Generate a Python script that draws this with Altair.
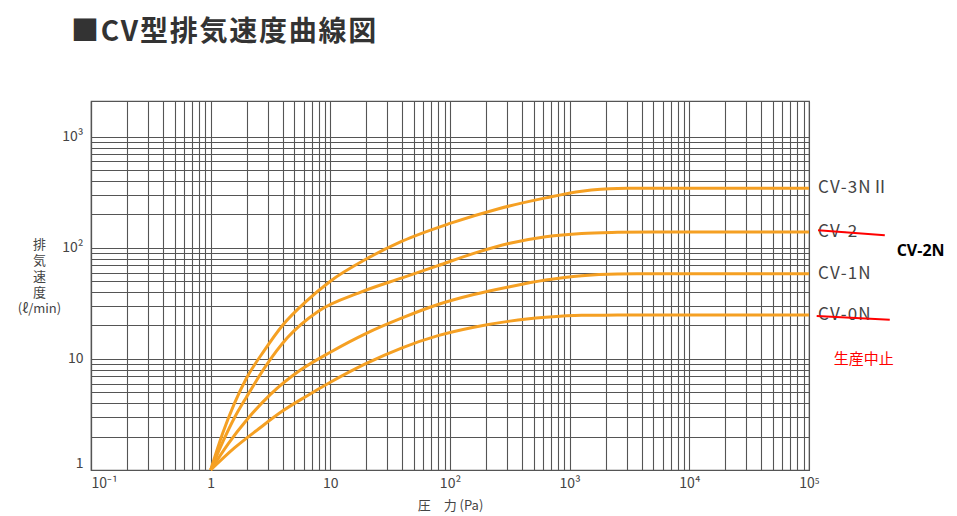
import altair as alt
import pandas as pd

# ---------------- data ----------------
chart_title = "■CV型排気速度曲線図"
x_title = "圧　力 (Pa)"
y_title_lines = ["排", "気", "速", "度", "(ℓ/min)"]

x_major = [0.1, 1, 10, 100, 1000, 10000, 100000]
x_major_labels = ["10⁻¹", "1", "10", "10²", "10³", "10⁴", "10⁵"]
y_major = [1, 10, 100, 1000]
y_major_labels = ["1", "10", "10²", "10³"]

series_names = ["CV-3NⅡ", "CV-2", "CV-1N", "CV-0N"]

p_cv3n2 = [1, 1.26, 1.58, 2.0, 2.82, 3.98, 6.31, 10, 20, 39.8, 100, 251, 631, 1259, 2512, 5012, 100000]
v_cv3n2 = [1, 2.14, 3.98, 6.76, 12.0, 20.0, 33.1, 50.1, 79.4, 115, 166, 224, 282, 324, 343, 344, 344]

p_cv2 = [1, 1.26, 1.58, 2.0, 2.82, 4.37, 7.94, 17.8, 39.8, 79.4, 158, 316, 631, 1259, 2512, 5012, 100000]
v_cv2 = [1, 1.78, 2.95, 4.57, 8.32, 15.5, 26.9, 39.8, 53.7, 69.2, 89.1, 110, 126, 135, 138, 139, 139]

p_cv1n = [1, 1.41, 2.0, 3.16, 5.62, 10, 20, 39.8, 79.4, 158, 316, 631, 1259, 2512, 5012, 100000]
v_cv1n = [1, 1.74, 2.82, 4.79, 7.94, 11.5, 17.0, 23.4, 30.9, 38.0, 44.7, 51.3, 56.2, 58.2, 58.5, 58.5]

p_cv0n = [1, 1.58, 2.51, 3.98, 6.31, 10, 20, 39.8, 79.4, 158, 316, 631, 1259, 2512, 100000]
v_cv0n = [1, 1.58, 2.34, 3.39, 4.62, 6.17, 9.12, 12.6, 16.2, 19.3, 21.9, 23.7, 24.7, 24.8, 24.8]

label_end_x = [100000, 100000, 100000, 100000]
label_end_y = [344, 139, 58.5, 24.8]

# annotations (red strike-through, replacement name, discontinued note)
strike_names = ["CV-2", "CV-0N"]
strike_x1 = [1.19e5, 1.16e5]
strike_x2 = [4.3e5, 4.73e5]
strike_y1 = [144, 24.3]
strike_y2 = [130, 22.5]

note_new_text = ["CV-2N"]
note_new_x = [5.4e5]
note_new_y = [93]

note_stop_text = ["生産中止"]
note_stop_x = [1.61e5]
note_stop_y = [10]

# ---------------- tables ----------------
rows = []
for name, ps, vs in zip(series_names,
                        [p_cv3n2, p_cv2, p_cv1n, p_cv0n],
                        [v_cv3n2, v_cv2, v_cv1n, v_cv0n]):
    for i, (p, v) in enumerate(zip(ps, vs)):
        rows.append({"series": name, "P": p, "V": v, "order": i})
curves = pd.DataFrame(rows)

HAIR = "\u200a"
labels = pd.DataFrame({
    "text": [HAIR.join(list(s)) for s in series_names],
    "P": label_end_x, "V": label_end_y})
strikes = pd.DataFrame({"name": strike_names, "P": strike_x1, "P2": strike_x2,
                        "V": strike_y1, "V2": strike_y2})
note_new = pd.DataFrame({"text": note_new_text, "P": note_new_x, "V": note_new_y})
note_stop = pd.DataFrame({"text": note_stop_text, "P": note_stop_x, "V": note_stop_y})

x_grid = [m * 10 ** e for e in range(-1, 5) for m in range(1, 10)] + [100000]
y_grid = [m * 10 ** e for e in range(0, 3) for m in range(1, 10)] + [1000]


def label_expr(vals, labs):
    expr = "''"
    for v, l in reversed(list(zip(vals, labs))):
        expr = f"(abs(datum.value - {v}) < {v}*1e-6) ? '{l}' : " + expr
    return expr


xscale = alt.Scale(type="log", domain=[0.1, 100000], nice=False)
yscale = alt.Scale(type="log", domain=[1, 2100], nice=False)

FONT = "Noto Sans CJK JP"
GRID = "#555555"
ORANGE = "#F5A023"

common_axis = dict(grid=True, gridColor=GRID, gridOpacity=1, gridWidth=1.1,
                   domainColor=GRID, domainWidth=1.2, ticks=False,
                   labelOverlap=False, labelFontSize=14,
                   labelColor="#444", labelFont=FONT, titleFont=FONT,
                   titleFontSize=13, titleFontWeight="normal", titleColor="#444")

x_axis = alt.Axis(values=x_grid, labelExpr=label_expr(x_major, x_major_labels),
                  labelFlush=False,
                  labelAlign={"condition": {"test": "datum.value < 0.15", "value": "left"},
                              "value": "center"},
                  labelPadding=6, title=x_title, titlePadding=9, **common_axis)
y_axis = alt.Axis(values=y_grid, labelExpr=label_expr(y_major, y_major_labels),
                  labelFlush=True,
                  labelPadding=8, title=y_title_lines, titleAngle=0,
                  titleAlign="center", titleBaseline="top", titleLineHeight=16,
                  titleX=-52, titleY=137, **common_axis)

X = alt.X("P:Q", scale=xscale, axis=x_axis)
Y = alt.Y("V:Q", scale=yscale, axis=y_axis)

lines = alt.Chart(curves).mark_line(
    interpolate="monotone", color=ORANGE, strokeWidth=3
).encode(x=X, y=Y, detail="series:N", order="order:Q")

end_labels = alt.Chart(labels).mark_text(
    align="left", baseline="middle", dx=9, fontSize=17, font=FONT, color="#444"
).encode(x=X, y=Y, text="text:N")

strike_rules = alt.Chart(strikes).mark_rule(color="#FF0000", strokeWidth=2).encode(
    x=X, x2="P2:Q", y=Y, y2="V2:Q")

new_text = alt.Chart(note_new).mark_text(
    align="left", baseline="middle", fontSize=16, font="Open Sans",
    fontWeight="bold", color="#000000"
).encode(x=X, y=Y, text="text:N")

stop_text = alt.Chart(note_stop).mark_text(
    align="left", baseline="middle", fontSize=15, font=FONT, color="#FF0000"
).encode(x=X, y=Y, text="text:N")

chart = alt.layer(lines, end_labels, strike_rules, new_text, stop_text).properties(
    width=718,
    height=369,
    autosize=alt.AutoSizeParams(type="none"),
    padding={"left": 83, "top": 93, "right": 140, "bottom": 60},
    background="white",
    title=alt.TitleParams(
        HAIR.join(list(chart_title)), anchor="start", frame="group", dx=-20,
        offset=54, fontSize=28, font=FONT, fontWeight="bold", color="#333333",
    ),
).configure_view(
    stroke=GRID, strokeWidth=1.2
)

chart.save("out.html", embed_options={"renderer": "svg", "actions": False})
